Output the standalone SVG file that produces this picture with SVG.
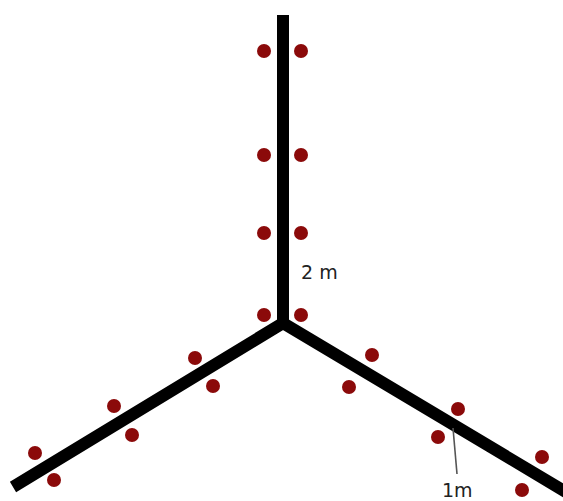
<svg xmlns="http://www.w3.org/2000/svg" width="563" height="501" viewBox="0 0 563 501">
<style>
.beam{stroke:#000;stroke-width:12;fill:none;stroke-linejoin:miter}
.dot{fill:#8b0a0a}
.lbl{font-family:"DejaVu Sans",sans-serif;font-size:19px;fill:#222}
.lead{stroke:#555;stroke-width:1.6;fill:none}
</style>
<rect width="563" height="501" fill="#fff"/>
<g id="connectors">
<path class="beam" d="M13,487 L283,323 L566,492"/>
<path class="beam" d="M283,323 L283,15"/>
<line class="lead" x1="453" y1="428" x2="457" y2="474"/>
</g>
<g id="dots-vertical">
<circle class="dot" cx="264" cy="51" r="7"/><circle class="dot" cx="301" cy="51" r="7"/>
<circle class="dot" cx="264" cy="155" r="7"/><circle class="dot" cx="301" cy="155" r="7"/>
<circle class="dot" cx="264" cy="233" r="7"/><circle class="dot" cx="301" cy="233" r="7"/>
<circle class="dot" cx="264" cy="315" r="7"/><circle class="dot" cx="301" cy="315" r="7"/>
</g>
<g id="dots-left">
<circle class="dot" cx="195" cy="358" r="7"/><circle class="dot" cx="213" cy="386" r="7"/>
<circle class="dot" cx="114" cy="406" r="7"/><circle class="dot" cx="132" cy="435" r="7"/>
<circle class="dot" cx="35" cy="453" r="7"/><circle class="dot" cx="54" cy="480" r="7"/>
</g>
<g id="dots-right">
<circle class="dot" cx="372" cy="355" r="7"/><circle class="dot" cx="349" cy="387" r="7"/>
<circle class="dot" cx="458" cy="409" r="7"/><circle class="dot" cx="438" cy="437" r="7"/>
<circle class="dot" cx="542" cy="457" r="7"/><circle class="dot" cx="522" cy="490" r="7"/>
</g>
<g id="labels">
<text class="lbl" x="301" y="279">2 m</text>
<text class="lbl" x="442" y="497">1m</text>
</g>
</svg>
